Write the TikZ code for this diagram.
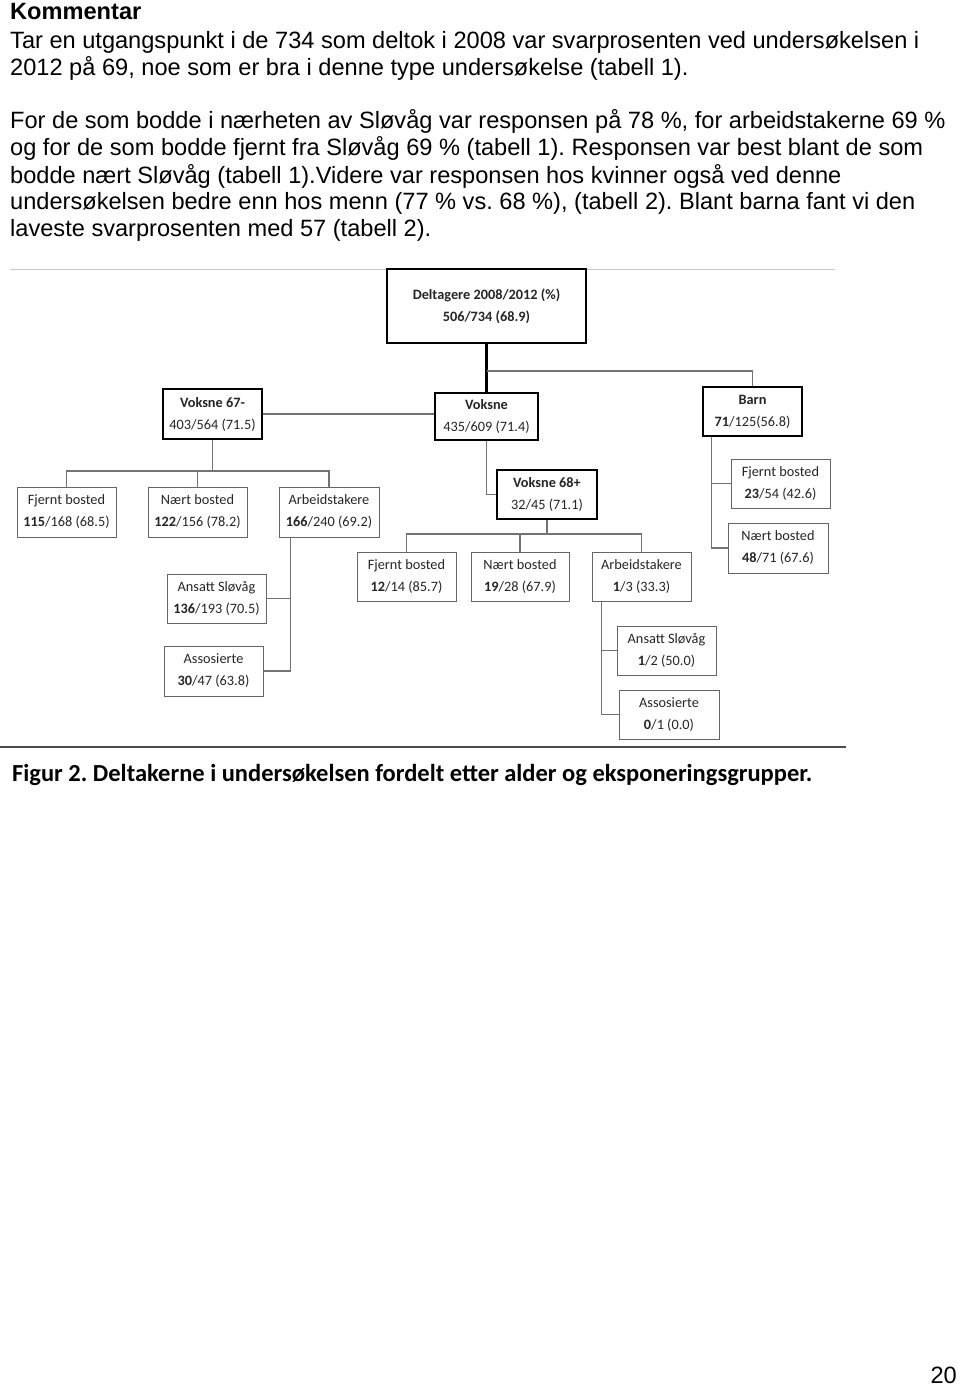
\documentclass[tikz,border=0pt]{standalone}
\usepackage{fontspec}
\setmainfont{Liberation Sans}
\newfontfamily\carlito{Carlito}
\frenchspacing
\begin{document}
\begin{tikzpicture}[x=1pt,y=-1pt,
  body/.style={anchor=base west,inner sep=0pt,font=\fontsize{23.6}{27}\selectfont},
  box/.style={draw=black!60,line width=1pt,align=center,inner sep=0pt,
    font=\carlito\fontsize{14.3}{22}\selectfont,text=black!85},
  thick box/.style={box,draw=black,line width=2.5pt},
  conn/.style={draw=black!55,line width=1.1pt},
  trunk/.style={draw=black,line width=2.5pt}]
\useasboundingbox[fill=white] (0,0) rectangle (960,1387);
% ---- text ----
\node[body,font=\bfseries\fontsize{23.6}{27}\selectfont] (t0) at (10,19.5) {Kommentar};
\node[body] (t1) at (10,48.5) {Tar en utgangspunkt i de 734 som deltok i 2008 var svarprosenten ved undersøkelsen i};
\node[body] (t2) at (10,75.5) {2012 på 69, noe som er bra i denne type undersøkelse (tabell 1).};
\node[body] (t3) at (10,128.5) {For de som bodde i nærheten av Sløvåg var responsen på 78 \%, for arbeidstakerne 69 \%};
\node[body] (t4) at (10,155.5) {og for de som bodde fjernt fra Sløvåg 69 \% (tabell 1). Responsen var best blant de som};
\node[body] (t5) at (10,183.5) {bodde nært Sløvåg (tabell 1).Videre var responsen hos kvinner også ved denne};
\node[body] (t6) at (10,209.5) {undersøkelsen bedre enn hos menn (77 \% vs. 68 \%), (tabell 2). Blant barna fant vi den};
\node[body] (t7) at (10,236.5) {laveste svarprosenten med 57 (tabell 2).};
% ---- frame lines ----
\coordinate (tl) at (10,269); \coordinate (tr) at (835,269);
\draw[draw=black!22,line width=1pt] (tl) -- (tr);
\coordinate (bl) at (0,747); \coordinate (br) at (846,747);
\draw[draw=black!70,line width=2pt] (bl) -- (br);
% ---- boxes ----
\node[thick box,minimum width=199,minimum height=74,font=\carlito\bfseries\fontsize{14.3}{22}\selectfont] (del) at (486.5,306) {Deltagere 2008/2012 (\%)\\506/734 (68.9)};
\node[thick box,minimum width=99,minimum height=50] (v67) at (212.5,414) {\textbf{Voksne 67-}\\403/564 (71.5)};
\node[thick box,minimum width=103,minimum height=47] (vok) at (486.5,416.5) {\textbf{Voksne}\\435/609 (71.4)};
\node[thick box,minimum width=99,minimum height=49] (barn) at (752.5,411.5) {\textbf{Barn}\\\textbf{71}/125(56.8)};
\node[thick box,minimum width=100,minimum height=49] (v68) at (547,494.5) {\textbf{Voksne 68+}\\32/45 (71.1)};
% Voksne 67- children
\node[box,minimum width=99,minimum height=50] (fb1) at (66.5,512) {Fjernt bosted\\\textbf{115}/168 (68.5)};
\node[box,minimum width=99,minimum height=50] (nb1) at (197.5,512) {Nært bosted\\\textbf{122}/156 (78.2)};
\node[box,minimum width=100,minimum height=50] (ar1) at (329,512) {Arbeidstakere\\\textbf{166}/240 (69.2)};
\node[box,minimum width=99,minimum height=49] (an1) at (216.5,598.5) {Ansatt Sløvåg\\\textbf{136}/193 (70.5)};
\node[box,minimum width=99,minimum height=50] (as1) at (213.5,671) {Assosierte\\\textbf{30}/47 (63.8)};
% Voksne 68+ children
\node[box,minimum width=99,minimum height=49] (fb2) at (406.5,576.5) {Fjernt bosted\\\textbf{12}/14 (85.7)};
\node[box,minimum width=98,minimum height=49] (nb2) at (520,576.5) {Nært bosted\\\textbf{19}/28 (67.9)};
\node[box,minimum width=99,minimum height=49] (ar2) at (641.5,576.5) {Arbeidstakere\\\textbf{1}/3 (33.3)};
\node[box,minimum width=99,minimum height=49] (an2) at (666.5,650.5) {Ansatt Sløvåg\\\textbf{1}/2 (50.0)};
\node[box,minimum width=100,minimum height=49] (as2) at (669,714.5) {Assosierte\\\textbf{0}/1 (0.0)};
% Barn children
\node[box,minimum width=99,minimum height=49] (fb3) at (780.5,483.5) {Fjernt bosted\\\textbf{23}/54 (42.6)};
\node[box,minimum width=100,minimum height=50] (nb3) at (778,548) {Nært bosted\\\textbf{48}/71 (67.6)};
% ---- connectors ----
\draw[trunk] (del.south) -- (vok.north);
\coordinate (jb) at (486.5,371);
\draw[conn] (jb) -| (barn.north);
\draw[conn] (v67.east) -- (v67.east -| vok.west);
\coordinate (j67) at (212.5,471);
\draw[conn] (v67.south) -- (j67);
\draw[conn] (fb1.north) |- (j67) -| (ar1.north);
\draw[conn] (nb1.north) -- (nb1.north |- j67);
\draw[conn] ([xshift=12pt]ar1.south west) |- (an1.east);
\draw[conn] ([xshift=12pt]ar1.south west) |- (as1.east);
\draw[conn] (vok.south) |- (v68.west);
\coordinate (j68) at (547,534);
\draw[conn] (v68.south) -- (j68);
\draw[conn] (fb2.north) |- (j68) -| (ar2.north);
\draw[conn] (nb2.north) -- (nb2.north |- j68);
\draw[conn] ([xshift=10pt]ar2.south west) |- (an2.west);
\draw[conn] ([xshift=10pt]ar2.south west) |- (as2.west);
\draw[conn] ([xshift=10pt]barn.south west) |- (fb3.west);
\draw[conn] ([xshift=10pt]barn.south west) |- (nb3.west);
% ---- caption and page number ----
\node[anchor=base west,inner sep=0pt,font=\carlito\bfseries\fontsize{24.5}{28}\selectfont] (cap) at (12,781) {Figur 2. Deltakerne i undersøkelsen fordelt etter alder og eksponeringsgrupper.};
\node[anchor=base east,inner sep=0pt,font=\fontsize{23.6}{27}\selectfont] (pg) at (957,1383) {20};
\end{tikzpicture}
\end{document}
